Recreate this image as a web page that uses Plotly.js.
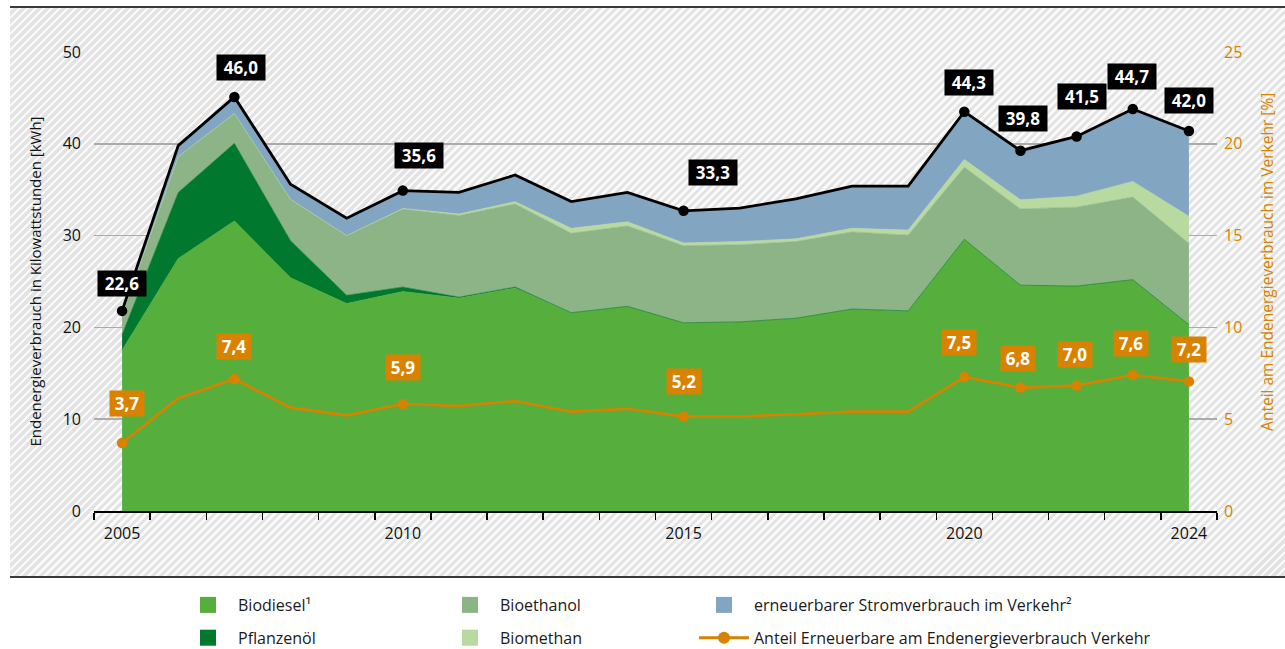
<!DOCTYPE html>
<html><head><meta charset="utf-8">
<script src="https://cdn.plot.ly/plotly-3.0.1.min.js"></script>
<style>
html,body{margin:0;padding:0;background:#fff;}
#wrap{position:relative;width:1285px;height:649px;overflow:hidden;}
#hatch{position:absolute;left:10px;top:6px;width:1275px;height:572px;border-top:2px solid #3a3a3a;border-bottom:2px solid #3a3a3a;box-sizing:border-box;
background:repeating-linear-gradient(135deg,#fafafa 0px,#fafafa 2.6px,#e3e3e3 2.6px,#e3e3e3 5.66px);}
#chart{position:absolute;left:0;top:0;width:1285px;height:649px;}
</style></head><body>
<div id="wrap"><div id="hatch"></div><div id="chart"></div></div>
<script>
// ---- data (kWh per capita, stacked) ----
const years = [2005,2006,2007,2008,2009,2010,2011,2012,2013,2014,2015,2016,2017,2018,2019,2020,2021,2022,2023,2024];
const biodiesel   = [17.5,27.5,31.6,25.4,22.6,23.9,23.2,24.3,21.6,22.3,20.5,20.6,21.0,22.0,21.8,29.6,24.6,24.5,25.2,20.3];
const pflanzenoel = [1.7,7.2,8.45,4.05,0.9,0.5,0.1,0.1,0,0,0,0,0,0,0,0,0,0,0,0];
const bioethanol  = [2.2,3.9,3.25,4.5,6.5,8.5,8.9,9.05,8.65,8.75,8.4,8.4,8.35,8.4,8.25,7.85,8.3,8.6,9.0,8.85];
const biomethan   = [0,0,0,0,0,0.05,0.15,0.25,0.55,0.45,0.3,0.35,0.3,0.4,0.55,0.85,1.0,1.2,1.7,2.95];
const strom       = [0.4,1.2,1.8,1.65,1.9,1.95,2.35,2.9,2.9,3.2,3.5,3.65,4.35,4.6,4.8,5.2,5.35,6.5,7.9,9.3];
const share       = [3.7,6.14,7.19,5.63,5.21,5.83,5.72,5.99,5.41,5.57,5.14,5.15,5.27,5.41,5.41,7.3,6.72,6.83,7.41,7.06];
const labelYears  = [2005,2007,2010,2015,2020,2021,2022,2023,2024];
const totalLabels = ['22,6','46,0','35,6','33,3','44,3','39,8','41,5','44,7','42,0'];
const shareLabels = ['3,7','7,4','5,9','5,2','7,5','6,8','7,0','7,6','7,2'];
const xTickVals   = [2005,2010,2015,2020,2024];
const xTickText   = ['2005','2010','2015','2020','2024'];
const seriesNames = ['Biodiesel¹','Pflanzenöl','Bioethanol','Biomethan','erneuerbarer Stromverbrauch im Verkehr²'];
const shareName   = 'Anteil Erneuerbare am Endenergieverbrauch Verkehr';
const leftTitle   = 'Endenergieverbrauch in Kilowattstunden [kWh]';
const rightTitle  = 'Anteil am Endenergieverbrauch im Verkehr [%]';

// ---- styles ----
const colors = ['#56ae3c','#00792f','#8cb486','#b8d9a0','#82a6c2'];
const orange = '#d98200';
const FONT = '"Open Sans", "DejaVu Sans", sans-serif';
const totalShift = [[0,27],[7,29],[16,35],[29,38],[5,29],[3,32],[5,40],[-1,32],[0,30]];
const shareShift = [[5,40],[0,32],[0,36],[0,35],[-5,34],[-2,29],[-2,31],[-2,31],[0,32]];
const legendOf = ['legend','legend','legend2','legend2','legend3'];

const stacks = [biodiesel, pflanzenoel, bioethanol, biomethan, strom];
const totals = years.map((_, i) => stacks.reduce((s, a) => s + a[i], 0));
const isLabelled = years.map(y => labelYears.includes(y));

const traces = [];
stacks.forEach((arr, k) => {
  traces.push({x: years, y: arr, type: 'scatter', mode: 'lines', stackgroup: 'one',
    line: {width: 0.6, color: colors[k]}, fillcolor: colors[k], showlegend: false,
    hoverinfo: 'skip', name: seriesNames[k]});
});
traces.push({x: years, y: totals, type: 'scatter', mode: 'lines+markers',
  line: {color: '#000', width: 2.8},
  marker: {color: '#000', opacity: 1, line: {width: 0}, size: isLabelled.map(b => b ? 10.5 : 0)},
  showlegend: false, hoverinfo: 'skip', name: 'Summe'});
traces.push({x: years, y: share, yaxis: 'y2', type: 'scatter', mode: 'lines+markers',
  line: {color: orange, width: 2.6},
  marker: {color: orange, opacity: 1, line: {width: 0}, size: isLabelled.map(b => b ? 10.5 : 0)},
  showlegend: false, hoverinfo: 'skip', name: shareName});
// legend entries (one column per legend)
stacks.forEach((arr, k) => {
  traces.push({x: [null], y: [null], type: 'scatter', mode: 'markers', name: seriesNames[k],
    legend: legendOf[k], legendgroup: 'g' + k,
    marker: {symbol: 'square', size: 16, color: colors[k], line: {width: 0}}, hoverinfo: 'skip'});
});
traces.push({x: [null], y: [null], type: 'scatter', mode: 'lines+markers', name: shareName,
  legend: 'legend3', legendgroup: 'g5', line: {color: orange, width: 3},
  marker: {color: orange, size: 12, line: {width: 0}}, hoverinfo: 'skip'});

const annotations = [];
labelYears.forEach((yr, j) => {
  const i = years.indexOf(yr);
  annotations.push({x: yr, y: totals[i], xref: 'x', yref: 'y', text: totalLabels[j], showarrow: false,
    xshift: totalShift[j][0], yshift: totalShift[j][1], bgcolor: '#000', width: 44, height: 21, borderpad: 2,
    font: {family: FONT, size: 17, color: '#fff', weight: 'bold'}});
  annotations.push({x: yr, y: share[i], xref: 'x', yref: 'y2', text: shareLabels[j], showarrow: false,
    xshift: shareShift[j][0], yshift: shareShift[j][1], bgcolor: orange, width: 30, height: 21, borderpad: 2,
    font: {family: FONT, size: 17, color: '#fff', weight: 'bold'}});
});
annotations.push({xref: 'paper', yref: 'paper', x: 1.056, y: 0.5425, text: rightTitle, showarrow: false,
  textangle: -90, font: {family: FONT, size: 15.5, color: orange}});

const PX = p => (p - 94) / 1123;
const legendBase = {orientation: 'v', xref: 'paper', yref: 'container', xanchor: 'left', yanchor: 'top',
  y: 1 - 588/649, itemwidth: 50, tracegroupgap: 9, bgcolor: 'rgba(0,0,0,0)',
  font: {family: FONT, size: 16, color: '#1a1a1a'}, traceorder: 'grouped'};

const layout = {
  width: 1285, height: 649,
  margin: {l: 94, r: 68, t: 52, b: 138},
  paper_bgcolor: 'rgba(0,0,0,0)', plot_bgcolor: 'rgba(0,0,0,0)',
  font: {family: FONT, size: 15, color: '#111'},
  showlegend: true,
  xaxis: {range: [2004.5, 2024.5], tickmode: 'array', tickvals: xTickVals, ticktext: xTickText,
    ticks: '', showgrid: false, zeroline: false, showline: true, linecolor: '#000', linewidth: 1.5,
    ticklabelstandoff: 7, tickfont: {size: 16, color: '#111'},
    minor: {tick0: 2004.5, dtick: 1, ticks: 'outside', ticklen: 7, tickwidth: 1.5, tickcolor: '#000', showgrid: false}},
  yaxis: {range: [0, 50], dtick: 10, showgrid: true, gridcolor: '#ababab', gridwidth: 1.5, zeroline: false,
    ticks: '', ticklabelstandoff: 12, tickfont: {size: 16, color: '#111'},
    title: {text: leftTitle, font: {size: 15, color: '#111'}, standoff: 17}},
  yaxis2: {range: [0, 25], dtick: 5, overlaying: 'y', side: 'right', showgrid: false, zeroline: false,
    ticks: '', ticklabelstandoff: 6, tickfont: {size: 16, color: orange}},
  legend: Object.assign({}, legendBase, {x: PX(178)}),
  legend2: Object.assign({}, legendBase, {x: PX(440)}),
  legend3: Object.assign({}, legendBase, {x: PX(694)}),
  annotations: annotations
};

Plotly.newPlot('chart', traces, layout, {displayModeBar: false, staticPlot: true});
</script>
</body></html>
